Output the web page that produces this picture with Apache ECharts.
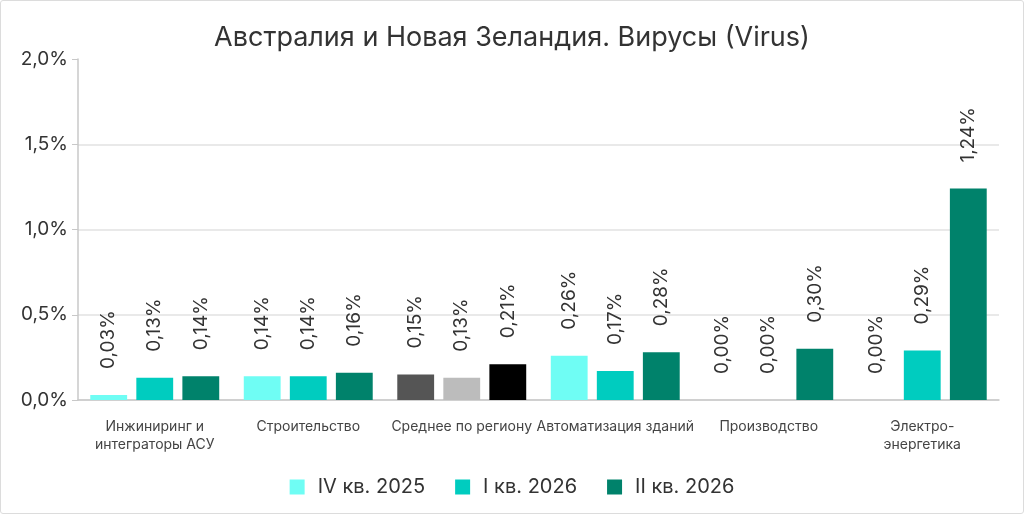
<!DOCTYPE html>
<html>
<head>
<meta charset="utf-8">
<script src="https://cdn.jsdelivr.net/npm/echarts@6/dist/echarts.min.js"></script>
<style>
  html, body { margin: 0; padding: 0; background: #fff; }
  #main { width: 1022px; height: 512px; border: 1px solid #dcdcdc; border-radius: 3px; }
</style>
</head>
<body>
<div id="main"></div>
<script>
var categories = ['Инжиниринг и\nинтеграторы АСУ', 'Строительство', 'Среднее по региону',
                  'Автоматизация зданий', 'Производство', 'Электро-\nэнергетика'];
var seriesNames = ['IV кв. 2025', 'I кв. 2026', 'II кв. 2026'];
var q4_2025 = [0.03, 0.14, 0.15, 0.26, 0.00, 0.00];
var q1_2026 = [0.13, 0.14, 0.13, 0.17, 0.00, 0.29];
var q2_2026 = [0.14, 0.16, 0.21, 0.28, 0.30, 1.24];
var seriesColors = ['#6ffdf4', '#00ccbf', '#00826b'];
// the regional average is drawn in greys
var averageIndex = 2;
var averageColors = ['#555555', '#bcbcbc', '#000000'];

var myChart = echarts.init(document.getElementById('main'));
var font = 'Inter, "Noto Sans", sans-serif';

function fmt(v, digits) {
    return v.toFixed(digits).replace('.', ',') + '%';
}

var series = [q4_2025, q1_2026, q2_2026].map(function (values, s) {
    return {
        name: seriesNames[s],
        type: 'bar',
        barGap: '25%',
        barCategoryGap: '16%',
        itemStyle: { color: seriesColors[s] },
        data: values.map(function (v, i) {
            if (i === averageIndex) {
                return { value: v, itemStyle: { color: averageColors[s] } };
            }
            return v;
        }),
        label: {
            show: true,
            position: 'top',
            rotate: 90,
            align: 'left',
            verticalAlign: 'middle',
            distance: 26,
            fontFamily: font,
            fontSize: 19,
            color: '#333',
            formatter: function (p) { return fmt(p.value, 2); }
        }
    };
});

var option = {
    animation: false,
    title: {
        text: 'Австралия и Новая Зеландия. Вирусы (Virus)',
        left: 'center',
        top: 18,
        textStyle: { fontFamily: font, fontSize: 27, fontWeight: 'normal', color: '#333' }
    },
    legend: {
        bottom: 11,
        left: 'center',
        itemWidth: 15,
        itemHeight: 15,
        itemGap: 30,
        icon: 'rect',
        textStyle: { fontFamily: font, fontSize: 20, color: '#333', padding: [0, 0, 0, 8] },
        data: seriesNames
    },
    grid: { left: 77, right: 24, top: 58, bottom: 113 },
    xAxis: {
        type: 'category',
        data: categories,
        axisLine: { lineStyle: { color: '#c8c8c8', width: 1.5 } },
        axisTick: { alignWithLabel: true, length: 6, lineStyle: { color: '#c8c8c8' } },
        axisLabel: { fontFamily: font, fontSize: 14, color: '#444', lineHeight: 18, margin: 18, interval: 0 }
    },
    yAxis: {
        type: 'value',
        min: 0,
        max: 2.0,
        interval: 0.5,
        axisLine: { show: true, lineStyle: { color: '#c8c8c8', width: 1.5 } },
        axisTick: { show: true, length: 6, lineStyle: { color: '#c8c8c8' } },
        axisLabel: {
            fontFamily: font, fontSize: 19, color: '#333', margin: 10,
            formatter: function (v) { return fmt(v, 1); }
        },
        splitLine: {
            lineStyle: { color: ['#e2e2e2', '#e2e2e2', '#e2e2e2', '#e2e2e2', 'rgba(0,0,0,0)'], width: 1.5 }
        }
    },
    series: series
};
myChart.setOption(option);
</script>
</body>
</html>
